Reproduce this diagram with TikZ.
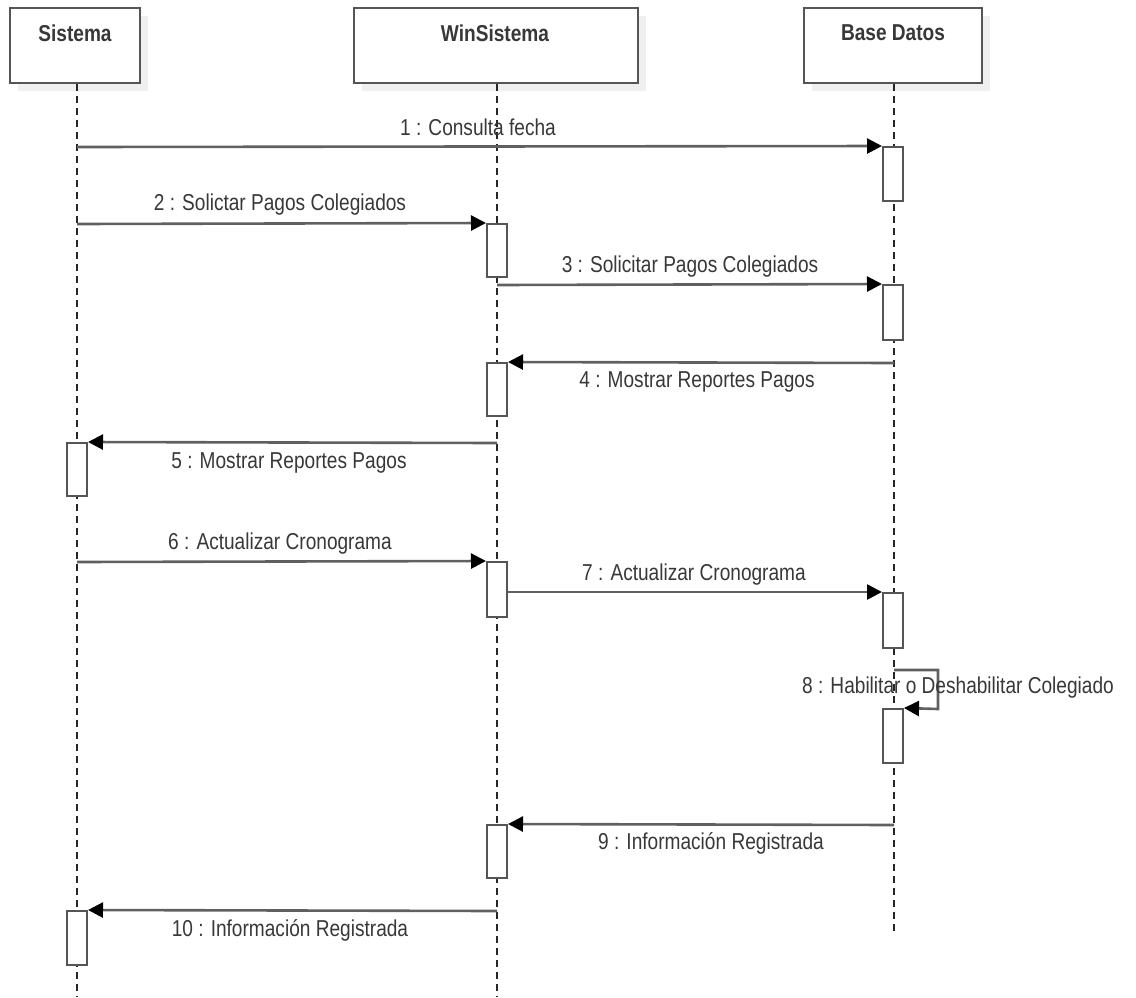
\documentclass[tikz,border=0pt]{standalone}
\usepackage{fontspec}
\setmainfont[FakeStretch=0.83]{Liberation Sans}
\usetikzlibrary{arrows.meta}

\definecolor{ink}{HTML}{383838}
\definecolor{edge}{HTML}{555555}
\definecolor{wire}{HTML}{606060}
\definecolor{shade}{HTML}{EFEFEF}

\tikzset{
  headbox/.style={draw=edge, line width=2pt, fill=white, rectangle, inner sep=0pt},
  headshadow/.style={fill=shade, draw=none, rectangle, inner sep=0pt},
  headtext/.style={text=ink, font=\fontsize{23}{25}\selectfont\bfseries, inner sep=0pt},
  actbox/.style={draw=edge, line width=2pt, fill=white, rectangle, inner sep=0pt,
                 minimum width=20pt},
  lifeline/.style={draw=black!85, line width=1.6pt, dash pattern=on 7pt off 5pt},
  msg/.style={draw=wire, line width=2.6pt,
              -{Triangle[length=15pt, width=15pt, color=black]}},
  msgtext/.style={text=ink, font=\fontsize{23}{25}\selectfont, inner sep=0pt},
}

\begin{document}
\begin{tikzpicture}[x=1pt, y=-1pt]
  \useasboundingbox (0,0) rectangle (1136,997);

  % participant heads with soft shadows
  \node[headshadow, minimum width=130pt, minimum height=75pt] (sisshadow) at (83,53.5) {};
  \node[headshadow, minimum width=284pt, minimum height=75pt] (winshadow) at (503.5,53.5) {};
  \node[headshadow, minimum width=178pt, minimum height=75pt] (bdshadow)  at (901,53.5) {};
  \node[headbox, minimum width=130pt, minimum height=75pt] (sisbox) at (75,45.5) {};
  \node[headbox, minimum width=284pt, minimum height=75pt] (winbox) at (495.5,45.5) {};
  \node[headbox, minimum width=178pt, minimum height=75pt] (bdbox)  at (893,45.5) {};
  \node[headtext] (sisname) at (75,33) {Sistema};
  \node[headtext] (winname) at (495,33) {WinSistema};
  \node[headtext] (bdname)  at (893,33) {Base Datos};

  % lifeline end points
  \coordinate (sisend) at (77,997);
  \coordinate (winend) at (497,997);
  \coordinate (bdend)  at (894,934);
  \draw[lifeline] (sisbox.south -| sisend) -- (sisend);
  \draw[lifeline] (winbox.south -| winend) -- (winend);
  \draw[lifeline] (bdbox.south -| bdend) -- (bdend);

  % activation bars
  \node[actbox, minimum height=54pt] (bd1) at (893,174) {};
  \node[actbox, minimum height=55pt] (bd2) at (893,312.5) {};
  \node[actbox, minimum height=55pt] (bd3) at (893,620.5) {};
  \node[actbox, minimum height=54pt] (bd4) at (893,736) {};
  \node[actbox, minimum height=53pt] (win1) at (497,250.5) {};
  \node[actbox, minimum height=53pt] (win2) at (497,389.5) {};
  \node[actbox, minimum height=55pt] (win3) at (497,589.5) {};
  \node[actbox, minimum height=53pt] (win4) at (497,851.5) {};
  \node[actbox, minimum height=53pt] (sis1) at (77,469.5) {};
  \node[actbox, minimum height=54pt] (sis2) at (77,938) {};

  % message start points on the lifelines
  \coordinate (m1) at (77,147);
  \coordinate (m2) at (77,224);
  \coordinate (m3) at (497,285);
  \coordinate (m4) at (894,363);
  \coordinate (m5) at (497,443);
  \coordinate (m6) at (77,562);
  \coordinate (m8a) at (894,670);
  \coordinate (m8b) at (938,670);
  \coordinate (m8c) at (938,709);
  \coordinate (m9) at (894,825);
  \coordinate (m10) at (497,911);

  % messages
  \draw[msg] (m1) -- (bd1.north west);
  \draw[msg] (m2) -- (win1.north west);
  \draw[msg] (m3) -- (bd2.north west);
  \draw[msg] (m4) -- (win2.north east);
  \draw[msg] (m5) -- (sis1.north east);
  \draw[msg] (m6) -- (win3.north west);
  \draw[msg] (win3.east |- bd3.north) -- (bd3.north west);
  \draw[msg] (m8a) -- (m8b) -- (m8c) -- (bd4.north east);
  \draw[msg] (m9) -- (win4.north east);
  \draw[msg] (m10) -- (sis2.north east);

  % message labels
  \node[msgtext] (l1)  at (478,127) {1 : Consulta fecha};
  \node[msgtext] (l2)  at (280,205) {2 : Solictar Pagos Colegiados};
  \node[msgtext] (l3)  at (690,267) {3 : Solicitar Pagos Colegiados};
  \node[msgtext] (l4)  at (697,382) {4 : Mostrar Reportes Pagos};
  \node[msgtext] (l5)  at (289,463) {5 : Mostrar Reportes Pagos};
  \node[msgtext] (l6)  at (280,544) {6 : Actualizar Cronograma};
  \node[msgtext] (l7)  at (694,575) {7 : Actualizar Cronograma};
  \node[msgtext] (l8)  at (958,688) {8 : Habilitar o Deshabilitar Colegiado};
  \node[msgtext] (l9)  at (711,843) {9 : Información Registrada};
  \node[msgtext] (l10) at (290,930) {10 : Información Registrada};
\end{tikzpicture}
\end{document}
